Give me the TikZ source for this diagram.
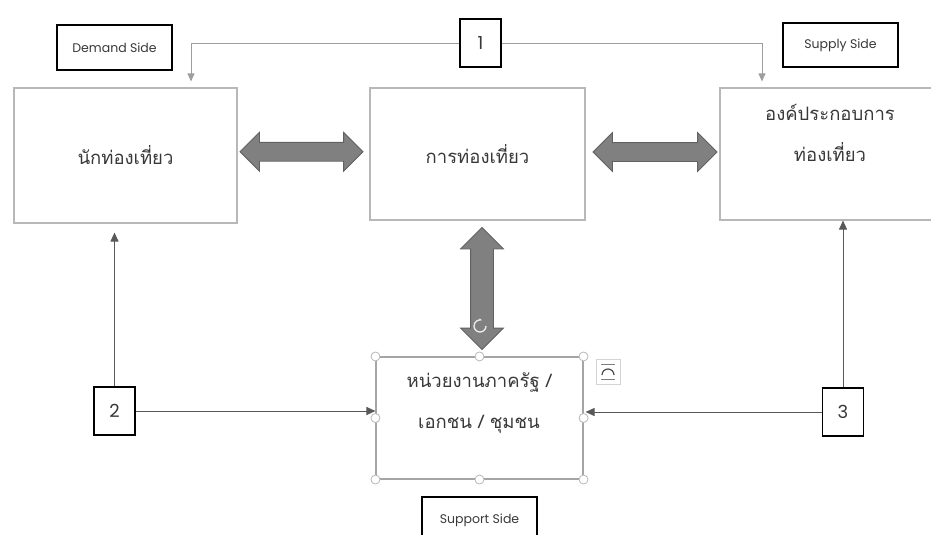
\documentclass[tikz,border=0pt]{standalone}
\usepackage{fontspec}
\setmainfont{Poppins}
\newfontfamily\thaifont[Script=Thai]{Loma}
\usetikzlibrary{arrows.meta,shapes.arrows,calc}

\definecolor{boxgray}{gray}{0.72}
\definecolor{linegray}{gray}{0.62}
\definecolor{darkline}{gray}{0.35}
\definecolor{arrowfill}{gray}{0.50}
\definecolor{arrowedge}{gray}{0.38}
\definecolor{inkgray}{gray}{0.22}

\tikzset{
  mainbox/.style={draw=boxgray, line width=1.1pt, inner sep=0pt},
  tagbox/.style={draw=black, line width=1.3pt, inner sep=0pt, text=inkgray, font=\fontsize{12.5}{14}\selectfont},
  numbox/.style={draw=black, line width=1.3pt, inner sep=0pt, text=inkgray, minimum width=41pt, minimum height=48pt, font=\fontsize{18}{20}\selectfont},
  thaitext/.style={font=\thaifont\fontsize{18.5}{41}\selectfont, text=inkgray, align=center},
  feed/.style={draw=linegray, line width=0.9pt, -{Triangle[width=7pt,length=8pt]}},
  link/.style={draw=darkline, line width=0.9pt, -{Triangle[width=8pt,length=9pt]}},
  bigarrow/.style={shape=double arrow, fill=arrowfill, draw=arrowedge, line width=0.8pt, double arrow head extend=10pt, minimum width=38pt},
  handle/.style={circle, draw=boxgray, fill=white, line width=0.8pt, minimum size=9pt, inner sep=0pt}
}

\begin{document}
\begin{tikzpicture}[x=1pt,y=-1pt]
  \useasboundingbox (0,0) rectangle (931,535);

  % main boxes
  \node[mainbox, minimum width=223pt, minimum height=135pt, thaitext] (tourist) at (125.5,155.5) {นักท่องเที่ยว};
  \node[mainbox, minimum width=215pt, minimum height=132pt, thaitext] (tourism) at (477.5,154) {การท่องเที่ยว};
  \node[mainbox, minimum width=215pt, minimum height=132pt] (supply) at (827.5,154) {};
  \node[thaitext] (supplytxt) at (830,133) {องค์ประกอบการ\\ท่องเที่ยว};
  \node[mainbox, draw=boxgray!90!black, minimum width=207pt, minimum height=122pt] (support) at (479.5,418) {};
  \node[thaitext] (supporttxt) at (479,403) {หน่วยงานภาครัฐ /\\เอกชน / ชุมชน};

  % side labels
  \node[tagbox, minimum width=115pt, minimum height=45pt] (demand) at (114.5,47.5) {Demand Side};
  \node[tagbox, minimum width=115pt, minimum height=44pt] (supplylbl) at (840.5,45) {Supply Side};
  \node[tagbox, minimum width=115pt, minimum height=46pt] (supportlbl) at (479.5,520) {Support Side};

  % numbered boxes
  \node[numbox] (one) at (480.5,43) {1};
  \node[numbox] (two) at (114.5,411) {2};
  \node[numbox] (three) at (843,412) {3};

  % big double arrows
  \node[bigarrow, inner sep=9pt, minimum height=123pt] (ab) at ($(tourist.east)!0.5!(tourism.west)+(-2,-3)$) {};
  \node[bigarrow, inner sep=9pt, minimum height=124pt] (bc) at ($(tourism.east)!0.5!(supply.west)+(2.5,-2)$) {};
  \node[bigarrow, inner sep=11pt, minimum width=39pt, minimum height=122pt, rotate=90] (bd) at ($(tourism.south)!0.5!(support.north)+(3.5,0)$) {};

  % connectors
  \draw[feed] (one.west) -| ([yshift=6pt]tourist.north -| 191,0);
  \draw[feed] (one.east) -| ([yshift=6pt]supply.north -| 762,0);
  \draw[link] (two.north) -- ([yshift=-9pt]tourist.south -| two.north);
  \draw[link] (two.east) -- (support.west |- two.east);
  \draw[link] (three.north) -- (supply.south -| three.north);
  \draw[link] (three.west) -- ([xshift=2pt]support.east |- three.west);

  % selection handles
  \foreach \a in {north west, north, north east, east, south east, south, south west, west}
    \node[handle] at (support.\a) {};
  \draw[white!85!gray, line width=1.3pt, -{Stealth[length=3pt]}] (486,326) arc[start angle=0, end angle=290, radius=6];
  \draw[boxgray!60, line width=0.7pt] (596,359) rectangle (620,384);
  \draw[gray, line width=0.8pt] (601,364) -- (615,364) (601,379) -- (615,379);
  \draw[black!70, line width=1.2pt] (602,375) arc[start angle=180, end angle=360, radius=6];
\end{tikzpicture}
\end{document}
